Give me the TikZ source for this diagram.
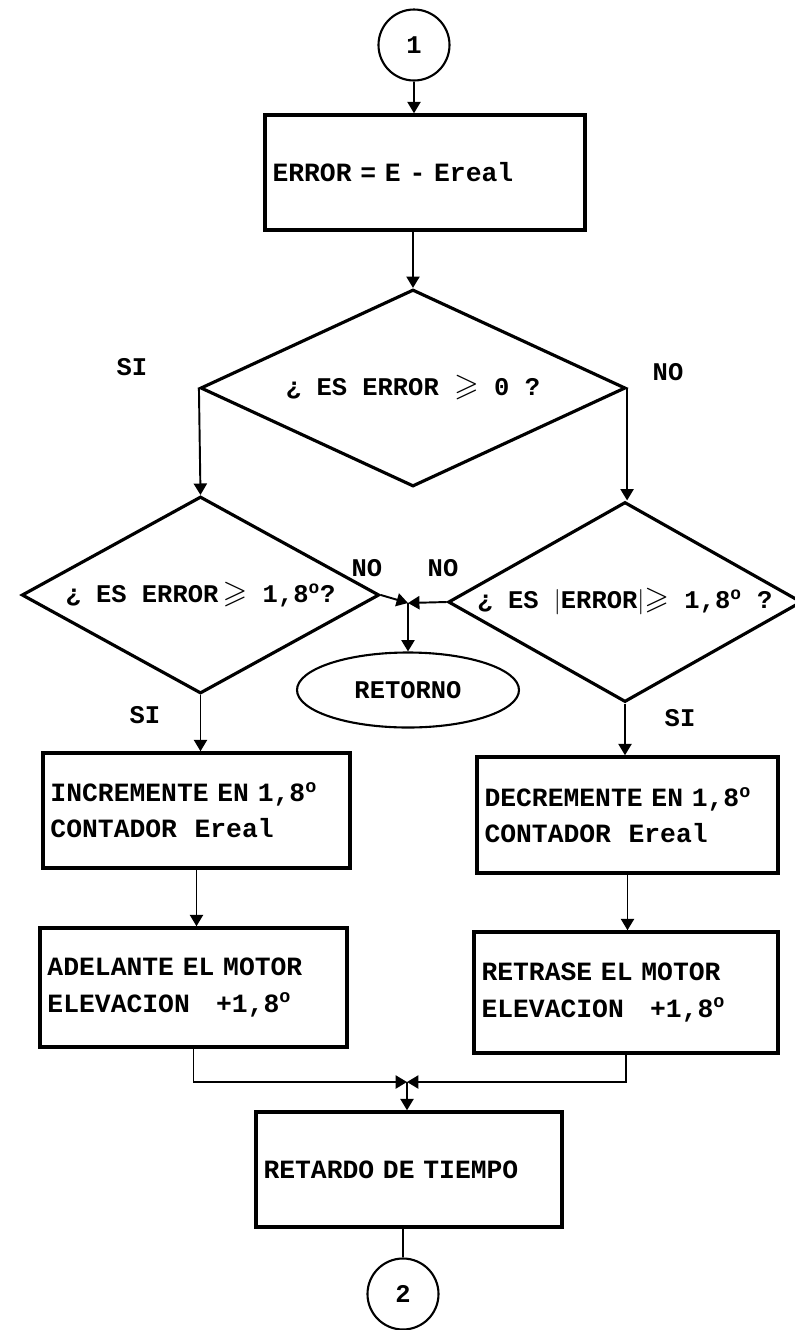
\documentclass[tikz,border=0pt]{standalone}
\usepackage{amsmath}
\usepackage{amssymb}
\usepackage{fontspec}
\setmonofont{Liberation Mono}
\usepackage{tikz}
\usetikzlibrary{shapes.geometric,arrows.meta}

\newcommand{\grado}{\textsuperscript{o}}
\newcommand{\mayig}{\scalebox{1.25}{$\geqslant$}}
\newcommand{\letra}{\ttfamily\bfseries\fontsize{14.5}{20}\selectfont}
\newcommand{\letracaja}{\ttfamily\bfseries\fontsize{15}{20.5}\selectfont}

\begin{document}
\begin{tikzpicture}[
                font=\letra,
                every path/.style={line width=1.1pt},
                arr/.style={-{Triangle[length=6.5pt,width=7.5pt]}},
                conector/.style={circle, draw, line width=1.2pt, minimum size=1.42cm, inner sep=0pt},
                caja/.style={rectangle, draw, line width=2pt, inner xsep=0.15cm, align=left, font=\letracaja},
                decision/.style={diamond, draw, line width=1.8pt, aspect=2.2, inner sep=0pt},
                fin/.style={ellipse, draw, line width=1.2pt, minimum width=4.44cm, minimum height=1.5cm}
            ]
                \useasboundingbox (0,0) rectangle (15.9,-26.6);

                % Nodes
                \node[conector] (c1) at (8.28,-0.9) {1};
                \node[caja, minimum width=6.4cm, minimum height=2.3cm, text width=6.1cm] (err) at (8.5,-3.45) {ERROR = E - Ereal};
                \node[decision, minimum width=8.5cm, minimum height=3.94cm] (d1) at (8.26,-7.76) {¿ ES ERROR \mayig{} 0 ?};
                \node[decision, minimum width=7.15cm, minimum height=3.94cm] (d2) at (4.01,-11.9) {¿ ES ERROR\,\mayig{} 1,8\grado?};
                \node[decision, minimum width=6.8cm, minimum height=4.0cm] (d3) at (12.5,-12.04) {¿ ES $|$ERROR$|$\mayig{} 1,8\grado{} ?};
                \coordinate (j1) at (8.16,-12.06);
                \node[fin] (ret) at (8.16,-13.8) {RETORNO};
                \node[caja, minimum width=6.14cm, minimum height=2.3cm, text width=5.84cm] (inc) at (3.93,-16.21) {INCREMENTE EN 1,8\grado\\CONTADOR\ \ Ereal};
                \node[caja, minimum width=6.14cm, minimum height=2.38cm, text width=5.84cm] (ade) at (3.87,-19.75) {ADELANTE EL MOTOR\\ELEVACION\ \ \ +1,8\grado};
                \node[caja, minimum width=6.02cm, minimum height=2.32cm, text width=5.72cm] (dec) at (12.55,-16.3) {DECREMENTE EN 1,8\grado\\CONTADOR\ \ Ereal};
                \node[caja, minimum width=6.08cm, minimum height=2.42cm, text width=5.78cm] (ret2) at (12.52,-19.85) {RETRASE EL MOTOR\\ELEVACION\ \ \ +1,8\grado};
                \coordinate (j2) at (8.14,-21.64);
                \node[caja, minimum width=6.12cm, minimum height=2.3cm, text width=5.82cm] (tie) at (8.18,-23.39) {RETARDO DE TIEMPO};
                \node[conector] (c2) at (8.06,-25.88) {2};

                % Labels
                \node (si1) at (2.64,-7.34) {SI};
                \node (no1) at (13.36,-7.44) {NO};
                \node (no2) at (7.34,-11.36) {NO};
                \node (no3) at (8.86,-11.36) {NO};
                \node (si2) at (2.9,-14.3) {SI};
                \node (si3) at (13.6,-14.36) {SI};

                % Edges
                \draw[arr] (c1) -- (c1.south |- err.north);
                \draw[arr] (err.south -| d1.north) -- (d1.north);
                \draw[arr] (d1.west) -- (d2.north);
                \draw[arr] (d1.east) -- (d1.east |- d3.north);
                \draw[arr] (d2.east) -- (j1);
                \draw[arr] (d3.west) -- (j1);
                \draw[arr] (j1) -- (ret.north);
                \draw[arr] (d2.south) -- (d2.south |- inc.north);
                \draw[arr] (inc.south) -- (inc.south |- ade.north);
                \draw[arr] (d3.south) -- (d3.south |- dec.north);
                \draw[arr] (dec.south) -- (dec.south |- ret2.north);
                \draw[arr] (ade.south) |- (j2);
                \draw[arr] (ret2.south) |- (j2);
                \draw[arr] (j2) -- (j2 |- tie.north);
                \draw (tie.south -| c2.north) -- (c2.north);
\end{tikzpicture}
\end{document}
